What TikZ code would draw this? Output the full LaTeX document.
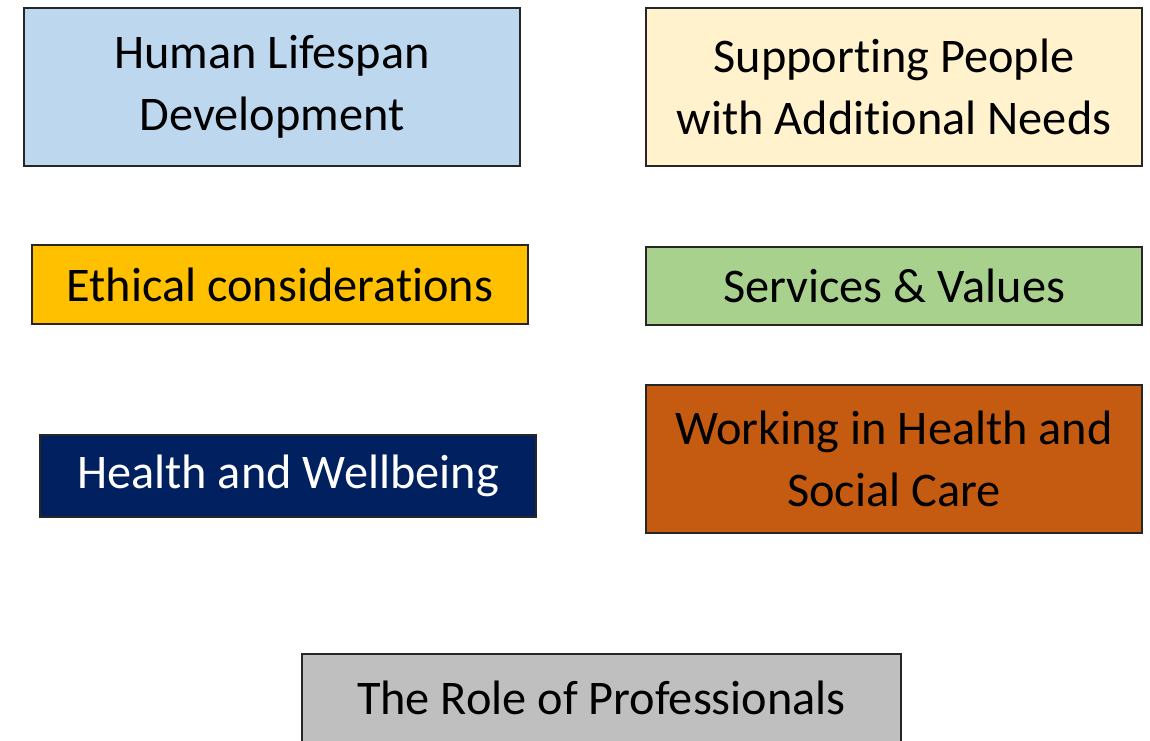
\documentclass[tikz,border=0pt]{standalone}
\usepackage{fontspec}
\setmainfont[Ligatures=NoCommon]{Carlito}
\usepackage{tikz}
\definecolor{lifeblue}{HTML}{BDD7EE}
\definecolor{needscream}{HTML}{FFF2CC}
\definecolor{ethicgold}{HTML}{FFC000}
\definecolor{servgreen}{HTML}{A9D18E}
\definecolor{wellnavy}{HTML}{002060}
\definecolor{careorange}{HTML}{C55A11}
\definecolor{rolegray}{HTML}{BFBFBF}
\tikzset{topic/.style={draw=black!85, line width=0.8pt, rectangle, align=center, minimum width=9.92cm, inner sep=0pt, font=\fontsize{27.5}{35}\selectfont}}

\begin{document}
\begin{tikzpicture}
\useasboundingbox (0,0) rectangle (23,14.8);
%left column
\node[topic, fill=lifeblue, minimum height=3.16cm] (life) at (5.44,13.06) {Human Lifespan\\Development};
\node[topic, fill=ethicgold, minimum height=1.58cm] (ethic) at (5.60,9.11) {Ethical considerations};
\node[topic, fill=wellnavy, text=white, minimum height=1.64cm] (well) at (5.76,5.28) {Health and Wellbeing};
%right column
\node[topic, fill=needscream, minimum height=3.16cm] (needs) at (17.88,13.06) {Supporting People\\with Additional Needs};
\node[topic, fill=servgreen, minimum height=1.56cm] (serv) at (17.88,9.08) {Services \& Values};
\node[topic, fill=careorange, minimum height=2.96cm] (care) at (17.88,5.62) {Working in Health and\\Social Care};
%bottom
\node[topic, fill=rolegray, minimum width=11.98cm, minimum height=1.76cm] (role) at (12.03,0.84) {The Role of Professionals};
\end{tikzpicture}
\end{document}
